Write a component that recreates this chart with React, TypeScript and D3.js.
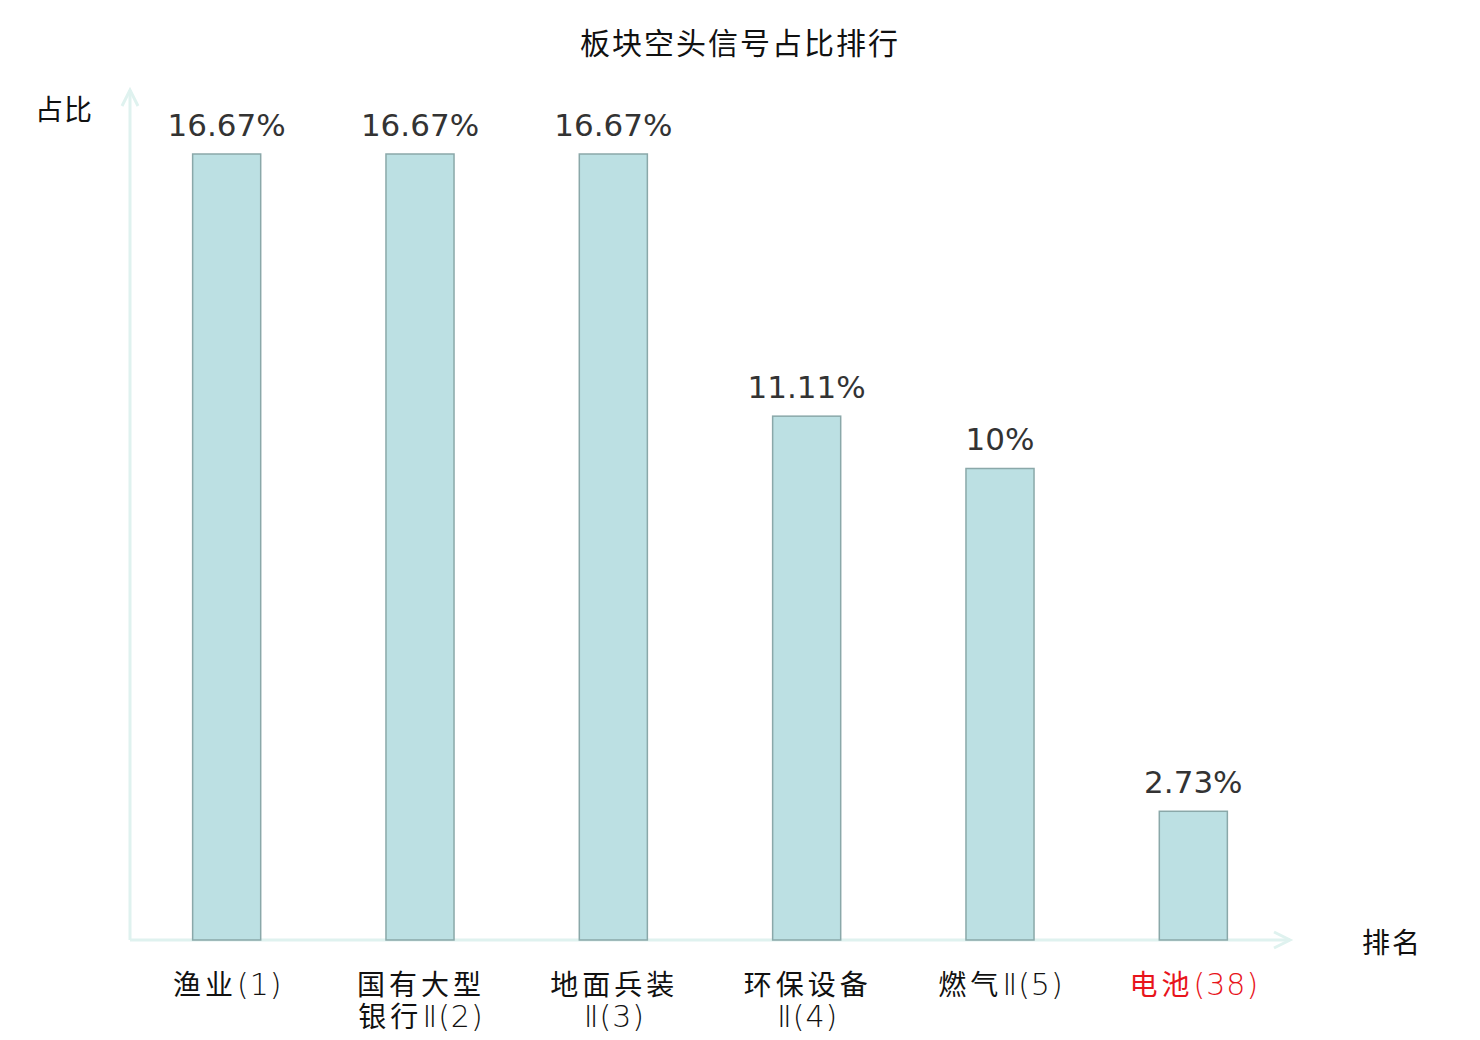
import React from "react";
import * as d3 from "d3";

const title = "板块空头信号占比排行";
const yAxisName = "占比";
const xAxisName = "排名";
const categories = ["渔业(1)", "国有大型银行Ⅱ(2)", "地面兵装Ⅱ(3)", "环保设备Ⅱ(4)", "燃气Ⅱ(5)", "电池(38)"];
const categoryLines = [["渔业(1)"], ["国有大型", "银行Ⅱ(2)"], ["地面兵装", "Ⅱ(3)"], ["环保设备", "Ⅱ(4)"], ["燃气Ⅱ(5)"], ["电池(38)"]];
const values = [16.67, 16.67, 16.67, 11.11, 10, 2.73];
const valueLabels = ["16.67%", "16.67%", "16.67%", "11.11%", "10%", "2.73%"];
const highlighted = [false, false, false, false, false, true];

const W = 1480;
const H = 1040;
const x0 = 130;
const x1 = 1290;
const yBase = 940;
const yTop = 154;

const FONT = "'DejaVu Sans', 'Noto Sans CJK SC', sans-serif";
const CJK = "'Noto Sans CJK SC', 'DejaVu Sans', sans-serif";
const LATIN_LIGHT = "'DejaVu Sans ExtraLight', 'DejaVu Sans', sans-serif";

function runs(s: string) {
  return s.match(/[\u4e00-\u9fff]+|[^\u4e00-\u9fff]+/g) || [];
}

export default function App() {
  const x = d3.scaleBand<string>().domain(categories).range([x0, x1]).paddingInner(0).paddingOuter(0);
  const y = d3.scaleLinear().domain([0, d3.max(values) as number]).range([yBase, yTop]);
  const bw = x.bandwidth() * 0.352;
  const axisColor = "#dff2ef";
  return (
    <svg width={W} height={H} style={{ position: "absolute", left: 0, top: 0, background: "#fff" }}>
      <text x={740} y={54} textAnchor="middle" fontSize={30} letterSpacing={2} fontFamily={CJK} fill="#111">{title}</text>
      <text x={64} y={120} textAnchor="middle" fontSize={28} letterSpacing={1} fontFamily={CJK} fill="#111">{yAxisName}</text>
      <text x={1392} y={953} textAnchor="middle" fontSize={28} letterSpacing={2} fontFamily={CJK} fill="#111">{xAxisName}</text>
      {/* axes */}
      <line x1={x0} y1={yBase} x2={x0} y2={90} stroke={axisColor} strokeWidth={3} />
      <polyline points={`${x0 - 8},${106} ${x0},${90} ${x0 + 8},${106}`} fill="none" stroke={axisColor} strokeWidth={3} />
      <line x1={x0} y1={yBase} x2={x1} y2={yBase} stroke={axisColor} strokeWidth={3} />
      <polyline points={`${x1 - 16},${yBase - 8} ${x1},${yBase} ${x1 - 16},${yBase + 8}`} fill="none" stroke={axisColor} strokeWidth={3} />
      {categories.map((c, i) => {
        const cx = (x(c) as number) + x.bandwidth() / 2;
        const top = y(values[i]);
        return (
          <g key={c}>
            <rect x={cx - bw / 2} y={top} width={bw} height={yBase - top} fill="#bce0e3" stroke="#8aa8a9" strokeWidth={1.5} />
            <text x={cx} y={top - 18} textAnchor="middle" fontSize={31} fontFamily={FONT} fill="#333">{valueLabels[i]}</text>
            {categoryLines[i].map((ln, j) => (
              <text key={j} x={cx + 1} y={995 + j * 32} textAnchor="middle" fontSize={28} fill={highlighted[i] ? "#e8141b" : "#111"}>
                {runs(ln).map((r, k) =>
                  /[\u4e00-\u9fff]/.test(r) ? (
                    <tspan key={k} fontFamily={CJK} letterSpacing={4}>{r}</tspan>
                  ) : (
                    <tspan key={k} fontFamily={LATIN_LIGHT} fontWeight={200} fontSize={30} letterSpacing={1}>{r}</tspan>
                  )
                )}
              </text>
            ))}
          </g>
        );
      })}
    </svg>
  );
}
